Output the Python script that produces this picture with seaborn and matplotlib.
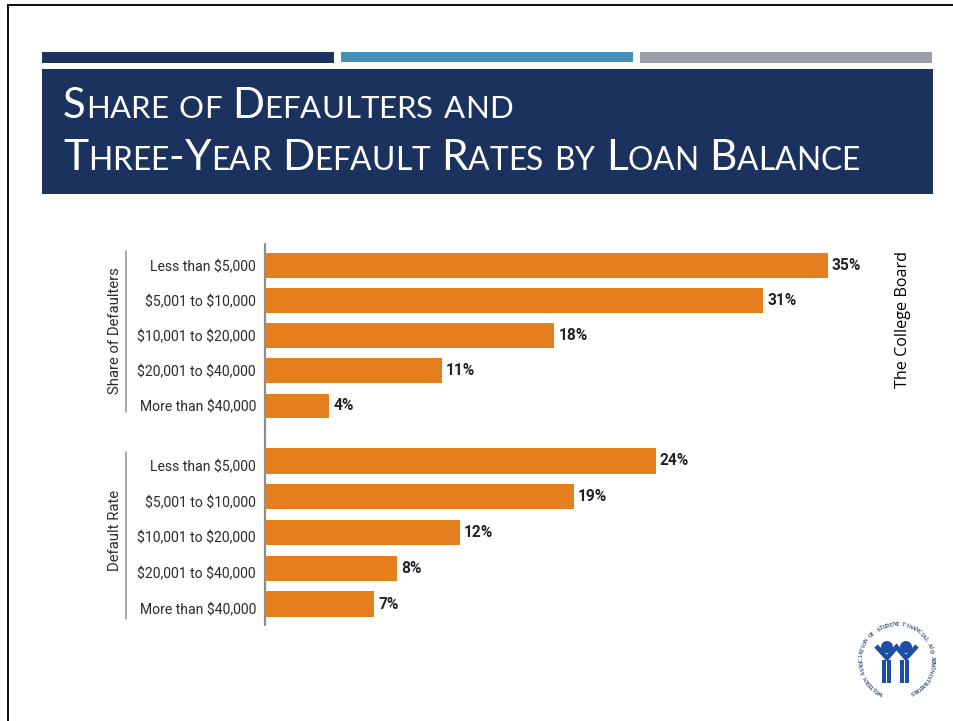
import math
import matplotlib
matplotlib.use('Agg')
import matplotlib.pyplot as plt
import seaborn as sns
from matplotlib.patches import Rectangle, Circle
from matplotlib.transforms import ScaledTranslation

# chart values
balance_labels = ['Less than $5,000', '$5,001 to $10,000', '$10,001 to $20,000',
                  '$20,001 to $40,000', 'More than $40,000']
share_values = [35, 31, 18, 11, 4]
rate_values = [24.3, 19.2, 12.1, 8.2, 6.8]
share_text = ['35%', '31%', '18%', '11%', '4%']
rate_text = ['24%', '19%', '12%', '8%', '7%']

NAVY = '#1b325f'
ORANGE = '#e57f1e'
GREY = '#9a9a9a'
NARROW = ['Roboto', 'DejaVu Sans']
W, H = 954, 721
PX_PER_PCT = 16.08

sns.set_theme(style='white')
plt.rcParams['font.family'] = ['Lato', 'DejaVu Sans']

fig = plt.figure(figsize=(W / 100, H / 100), dpi=100, facecolor='white')

# whole-slide layer in pixel coordinates
bg = fig.add_axes([0, 0, 1, 1], zorder=0)
bg.set_xlim(0, W)
bg.set_ylim(H, 0)
bg.axis('off')


def box(x0, y0, x1, y1, color):
    bg.add_patch(Rectangle((x0, y0), x1 - x0, y1 - y0, color=color, lw=0))


# slide frame
box(7, 4, W, 6, '#111111')
box(7, 4, 9, H, '#111111')

# header strips and band
box(42, 52, 334, 63, NAVY)
box(341, 52, 633, 62, '#468fb8')
box(640, 52, 932, 63, '#9ba0a8')
box(42, 69, 933, 194, NAVY)


def small_caps(x, y, text, big=30, small=22.3):
    # capitals large, lower case as small capitals
    rend = fig.canvas.get_renderer()
    for ch in text:
        size = small if ch.islower() else big
        t = bg.text(x, y, ch.upper(), color='white', fontsize=size, va='baseline', ha='left')
        x += t.get_window_extent(rend).width if ch != ' ' else size * 0.36
    return x


small_caps(63, 118, 'Share of Defaulters and', 30.2, 22.4)
small_caps(63, 170, 'Three-Year Default Rates by Loan Balance', 30.6, 22.9)


def bar_panel(values, texts, top, bottom, label_shift):
    ax = fig.add_axes([265 / W, 1 - bottom / H, 40 * PX_PER_PCT / W, (bottom - top) / H], zorder=2)
    ax.patch.set_alpha(0)
    sns.barplot(x=values, y=balance_labels, ax=ax, color=ORANGE, saturation=1, width=0.71, linewidth=0)
    ax.set_xlim(0, 40)
    ax.set_xticks([])
    ax.set_xlabel('')
    ax.tick_params(axis='y', length=0, pad=6.5)
    sns.despine(ax=ax, left=True, bottom=True)
    for lab in ax.get_yticklabels():
        lab.set_parse_math(False)
        lab.set_fontfamily(NARROW)
        lab.set_fontsize(10.1)
        lab.set_color('#2b2b2b')
        lab.set_transform(lab.get_transform() + ScaledTranslation(0, -label_shift / 100, fig.dpi_scale_trans))
    ax.bar_label(ax.containers[0], labels=texts, padding=3, fontsize=11.2,
                 fontweight='bold', color='#222222', fontfamily=NARROW)
    return ax


bar_panel(share_values, share_text, 247.6, 423.6, 0)
bar_panel(rate_values, rate_text, 443, 622, 4.5)

# axis line and group brackets
bg.plot([265, 265], [244, 625], color='#8c8c8c', lw=1.6)
bg.plot([126.5, 126.5], [251, 412], color=GREY, lw=1.2)
bg.plot([126.5, 126.5], [452, 619], color=GREY, lw=1.2)
bg.text(115.5, 331, 'Share of Defaulters', rotation=90, ha='center', va='center',
        fontsize=10.7, color='#2b2b2b', fontfamily=NARROW)
bg.text(115.5, 530, 'Default Rate', rotation=90, ha='center', va='center',
        fontsize=10.7, color='#2b2b2b', fontfamily=NARROW)

# source note
bg.text(903, 319, 'The College Board', rotation=90, ha='center', va='center',
        fontsize=11.6, color='black', fontfamily=['Open Sans', 'DejaVu Sans'])

# logo
LOGO = '#1a4fa3'
cx, cy, r = 897, 660, 35.5
name = 'WESTERN ASSOCIATION OF STUDENT FINANCIAL AID ADMINISTRATORS'
start, end = -153, 155
for i, ch in enumerate(name):
    a = start + (end - start) * i / (len(name) - 1)
    bg.text(cx + r * math.sin(math.radians(a)), cy - r * math.cos(math.radians(a)), ch,
            rotation=-a, rotation_mode='anchor', ha='center', va='center',
            fontsize=4.0, fontweight='bold', color='#24406f',
            fontfamily=['Liberation Serif', 'DejaVu Serif'])
bg.add_patch(Circle((887, 647), 6, color=LOGO, lw=0))
bg.add_patch(Circle((906, 647), 6, color=LOGO, lw=0))
bg.plot([876, 887, 896.5, 906, 917], [646, 658, 647, 658, 646], color=LOGO, lw=3.4,
        solid_joinstyle='miter', solid_capstyle='butt')
for x0 in [882, 887, 900, 905]:
    box(x0, 660, x0 + 4.5, 683, LOGO)

fig.savefig('out.png', dpi=100)
plt.close(fig)
